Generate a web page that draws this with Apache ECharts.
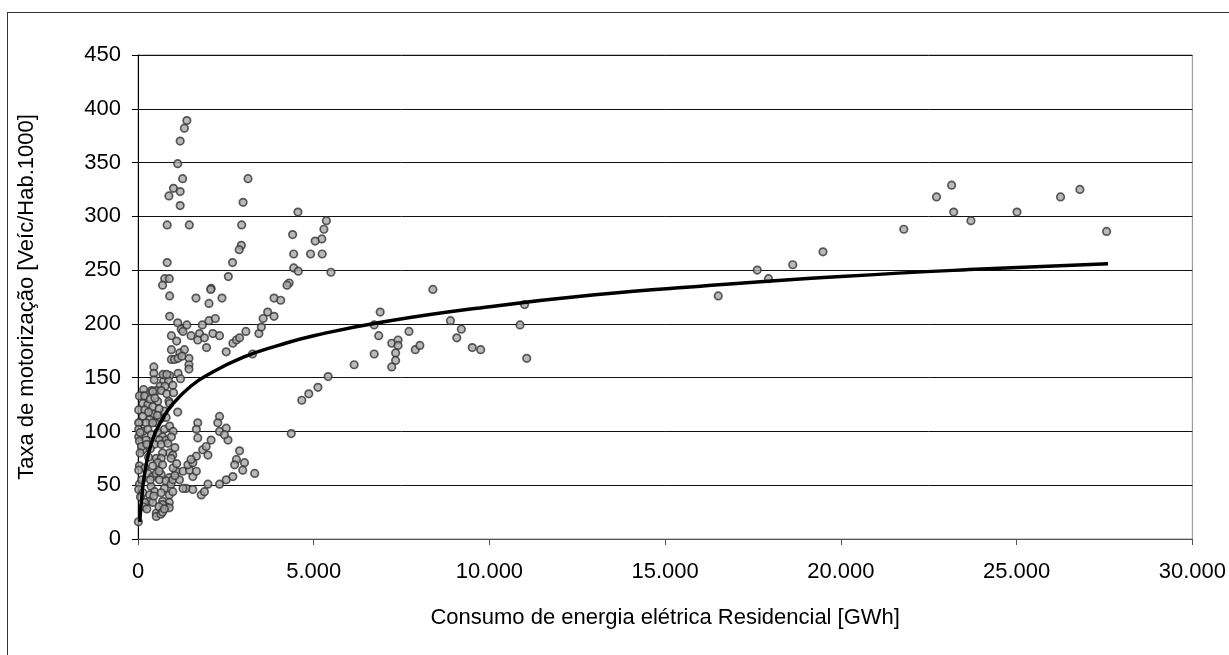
<!DOCTYPE html>
<html>
<head>
<meta charset="utf-8">
<script src="https://cdn.jsdelivr.net/npm/echarts@6/dist/echarts.min.js"></script>
<style>
  html, body { margin: 0; padding: 0; background: #fff; overflow: hidden; }
  #frame { position: absolute; left: 7px; top: 12px; width: 1300px; height: 700px; border: 1px solid #333; }
  #myChart { position: absolute; left: 0; top: 0; width: 1229px; height: 655px; }
</style>
</head>
<body>
<div id="frame"></div>
<div id="myChart"></div>
<script>
// consumo residencial [GWh] x taxa de motorização [veíc/hab.1000]
var consumo = [
  1390, 1320, 1200, 1130, 1270, 1010, 1200, 880, 1200, 830, 1460, 3130, 2990, 2950, 4550, 4400,
  5360, 5290, 5230, 5490, 5040, 4910, 5240, 4430, 4430, 4560, 4300, 4240, 2940, 2880, 2690, 2570,
  2080, 830, 760, 890, 700, 900, 900, 1130, 1230, 1390, 1280, 950, 1100, 950, 1190, 1320,
  950, 1040, 1140, 1450, 1450, 1450, 1140, 450, 450, 750, 900, 1510, 1750, 1700, 1890, 1830,
  2020, 2200, 2130, 2320, 1950, 1650, 2020, 2070, 2390, 2510, 2700, 2800, 2890, 3070, 3260, 3440,
  3510, 3560, 3690, 3870, 3870, 4060, 5410, 8390, 6890, 6720, 6850, 7220, 7400, 7400, 7330, 6720,
  7710, 7890, 8020, 8890, 9200, 9070, 9510, 9750, 10870, 11000, 11060, 7330, 7220, 6150, 16510, 17620,
  17940, 18630, 19490, 21790, 22720, 23150, 23210, 23700, 25010, 26250, 26800, 27560, 4360, 4660, 4860, 5120,
  1250, 460, 730, 870, 630, 770, 990, 390, 520, 160, 660, 820, 1010, 160, 40, 190,
  420, 710, 820, 1210, 560, 140, 280, 20, 190, 420, 880, 900, 750, 1130, 140, 420,
  330, 40, 230, 20, 520, 420, 800, 20, 140, 20, 280, 380, 750, 560, 40, 230,
  140, 700, 610, 800, 470, 660, 850, 900, 990, 700, 520, 660, 940, 40, 190, 20,
  560, 700, 420, 280, 420, 520, 660, 610, 890, 40, 20, 140, 370, 470, 330, 800,
  940, 750, 660, 890, 990, 330, 420, 700, 890, 520, 520, 800, 890, 700, 190, 10,
  1090, 1280, 990, 1180, 1370, 1280, 1560, 1560, 1470, 1660, 1420, 1560, 1660, 1510, 1800, 1890,
  1990, 2320, 2510, 2700, 1840, 1940, 2080, 1990, 2890, 2800, 2750, 3030, 2980, 3320, 1700, 1660,
  1700, 2320, 2270, 2510, 2320, 2560, 2460, 60, 100, 60, 110, 70, 150, 250, 300, 350,
  250, 300, 350, 480, 600, 650, 550, 900, 1000, 950, 1050, 1000, 1100, 1050, 600, 350,
  450, 600, 650, 700, 750
]
var taxa = [
  389, 382, 370, 349, 335, 326, 323, 319, 310, 292, 292, 335, 313, 292, 304, 283,
  296, 288, 279, 248, 277, 265, 265, 265, 252, 249, 238, 236, 273, 269, 257, 244,
  233, 257, 242, 242, 236, 226, 207, 201, 195, 199, 193, 189, 184, 176, 173, 176,
  167, 167, 168, 168, 162, 158, 154, 160, 154, 152, 152, 189, 191, 185, 187, 199,
  203, 205, 191, 189, 178, 224, 219, 232, 224, 174, 182, 185, 187, 193, 172, 191,
  197, 205, 211, 207, 224, 222, 151, 232, 211, 199, 189, 182, 185, 180, 173, 172,
  193, 176, 180, 203, 195, 187, 178, 176, 199, 218, 168, 166, 160, 162, 226, 250,
  242, 255, 267, 288, 318, 329, 304, 296, 304, 318, 325, 286, 98, 129, 135, 141,
  170, 148, 147, 147, 142, 142, 143, 138, 138, 139, 138, 135, 136, 133, 133, 133,
  137, 153, 153, 149, 128, 126, 125, 120, 120, 123, 128, 126, 119, 118, 114, 116,
  111, 108, 108, 108, 108, 108, 113, 102, 100, 95, 102, 97, 102, 99, 91, 92,
  83, 95, 92, 92, 88, 88, 89, 80, 78, 80, 75, 75, 75, 68, 66, 64,
  71, 69, 68, 61, 58, 61, 60, 55, 57, 51, 46, 43, 49, 44, 41, 54,
  51, 47, 43, 41, 44, 35, 34, 35, 34, 24, 21, 30, 29, 32, 34, 16,
  63, 63, 55, 55, 47, 47, 46, 58, 64, 63, 69, 71, 77, 74, 41, 44,
  51, 51, 55, 58, 83, 86, 92, 78, 82, 74, 69, 71, 64, 61, 108, 102,
  94, 114, 108, 103, 100, 92, 97, 99, 86, 80, 55, 39, 30, 28, 76, 84,
  88, 118, 130, 131, 121, 112, 115, 105, 100, 95, 85, 66, 70, 59, 63, 55,
  40, 30, 23, 25, 28
]
// linha de tendência
var tendX = [50, 100, 200, 400, 700, 1000, 1500, 2000, 3000, 4000, 5000, 7000, 10000, 13000, 16000, 20000, 24000, 27600]
var tendY = [16, 36, 63, 91, 112, 126, 142, 153, 169, 180, 189, 202, 216, 227, 235, 244, 251, 256]

var pontos = consumo.map(function (v, i) { return [v, taxa[i]] })
var tendencia = tendX.map(function (v, i) { return [v, tendY[i]] })

var fonte = "'Liberation Sans', Arial, sans-serif"

var myChart = echarts.init(document.getElementById('myChart'))
var option = {
  animation: false,
  backgroundColor: 'transparent',
  grid: {
    left: 138,
    top: 55,
    width: 1055,
    height: 484,
    show: true,
    borderColor: '#8c8c8c',
    borderWidth: 1
  },
  xAxis: {
    type: 'value',
    min: 0,
    max: 30000,
    interval: 5000,
    name: 'Consumo de energia elétrica Residencial [GWh]',
    nameLocation: 'middle',
    nameGap: 68,
    nameTextStyle: { color: '#000', fontSize: 22, fontFamily: fonte },
    axisLine: { show: true, lineStyle: { color: '#555', width: 1 } },
    axisTick: { show: true, inside: false, length: 6, lineStyle: { color: '#555' } },
    axisLabel: {
      color: '#000',
      fontSize: 22,
      fontFamily: fonte,
      margin: 22,
      formatter: function (v) { return v === 0 ? '0' : (v / 1000).toFixed(3) }
    },
    splitLine: { show: false }
  },
  yAxis: {
    type: 'value',
    min: 0,
    max: 450,
    interval: 50,
    name: 'Taxa de motorização [Veíc/Hab.1000]',
    nameLocation: 'middle',
    nameGap: 100,
    nameTextStyle: { color: '#000', fontSize: 22, fontFamily: fonte },
    axisLine: { show: true, lineStyle: { color: '#000', width: 1 } },
    axisTick: { show: true, inside: false, length: 6, lineStyle: { color: '#000' } },
    axisLabel: { color: '#000', fontSize: 22, fontFamily: fonte, margin: 17 },
    splitLine: { show: true, lineStyle: { color: '#111', width: 1 } }
  },
  series: [
    {
      name: 'dados',
      type: 'scatter',
      data: pontos,
      symbol: 'circle',
      symbolSize: 7.5,
      itemStyle: { color: '#a8a8a8', borderColor: '#353535', borderWidth: 1.7 },
      silent: true
    },
    {
      name: 'tendência',
      type: 'line',
      data: tendencia,
      smooth: true,
      showSymbol: false,
      lineStyle: { color: '#000', width: 3.5 },
      z: 5,
      silent: true
    }
  ]
}
myChart.setOption(option)
</script>
</body>
</html>
